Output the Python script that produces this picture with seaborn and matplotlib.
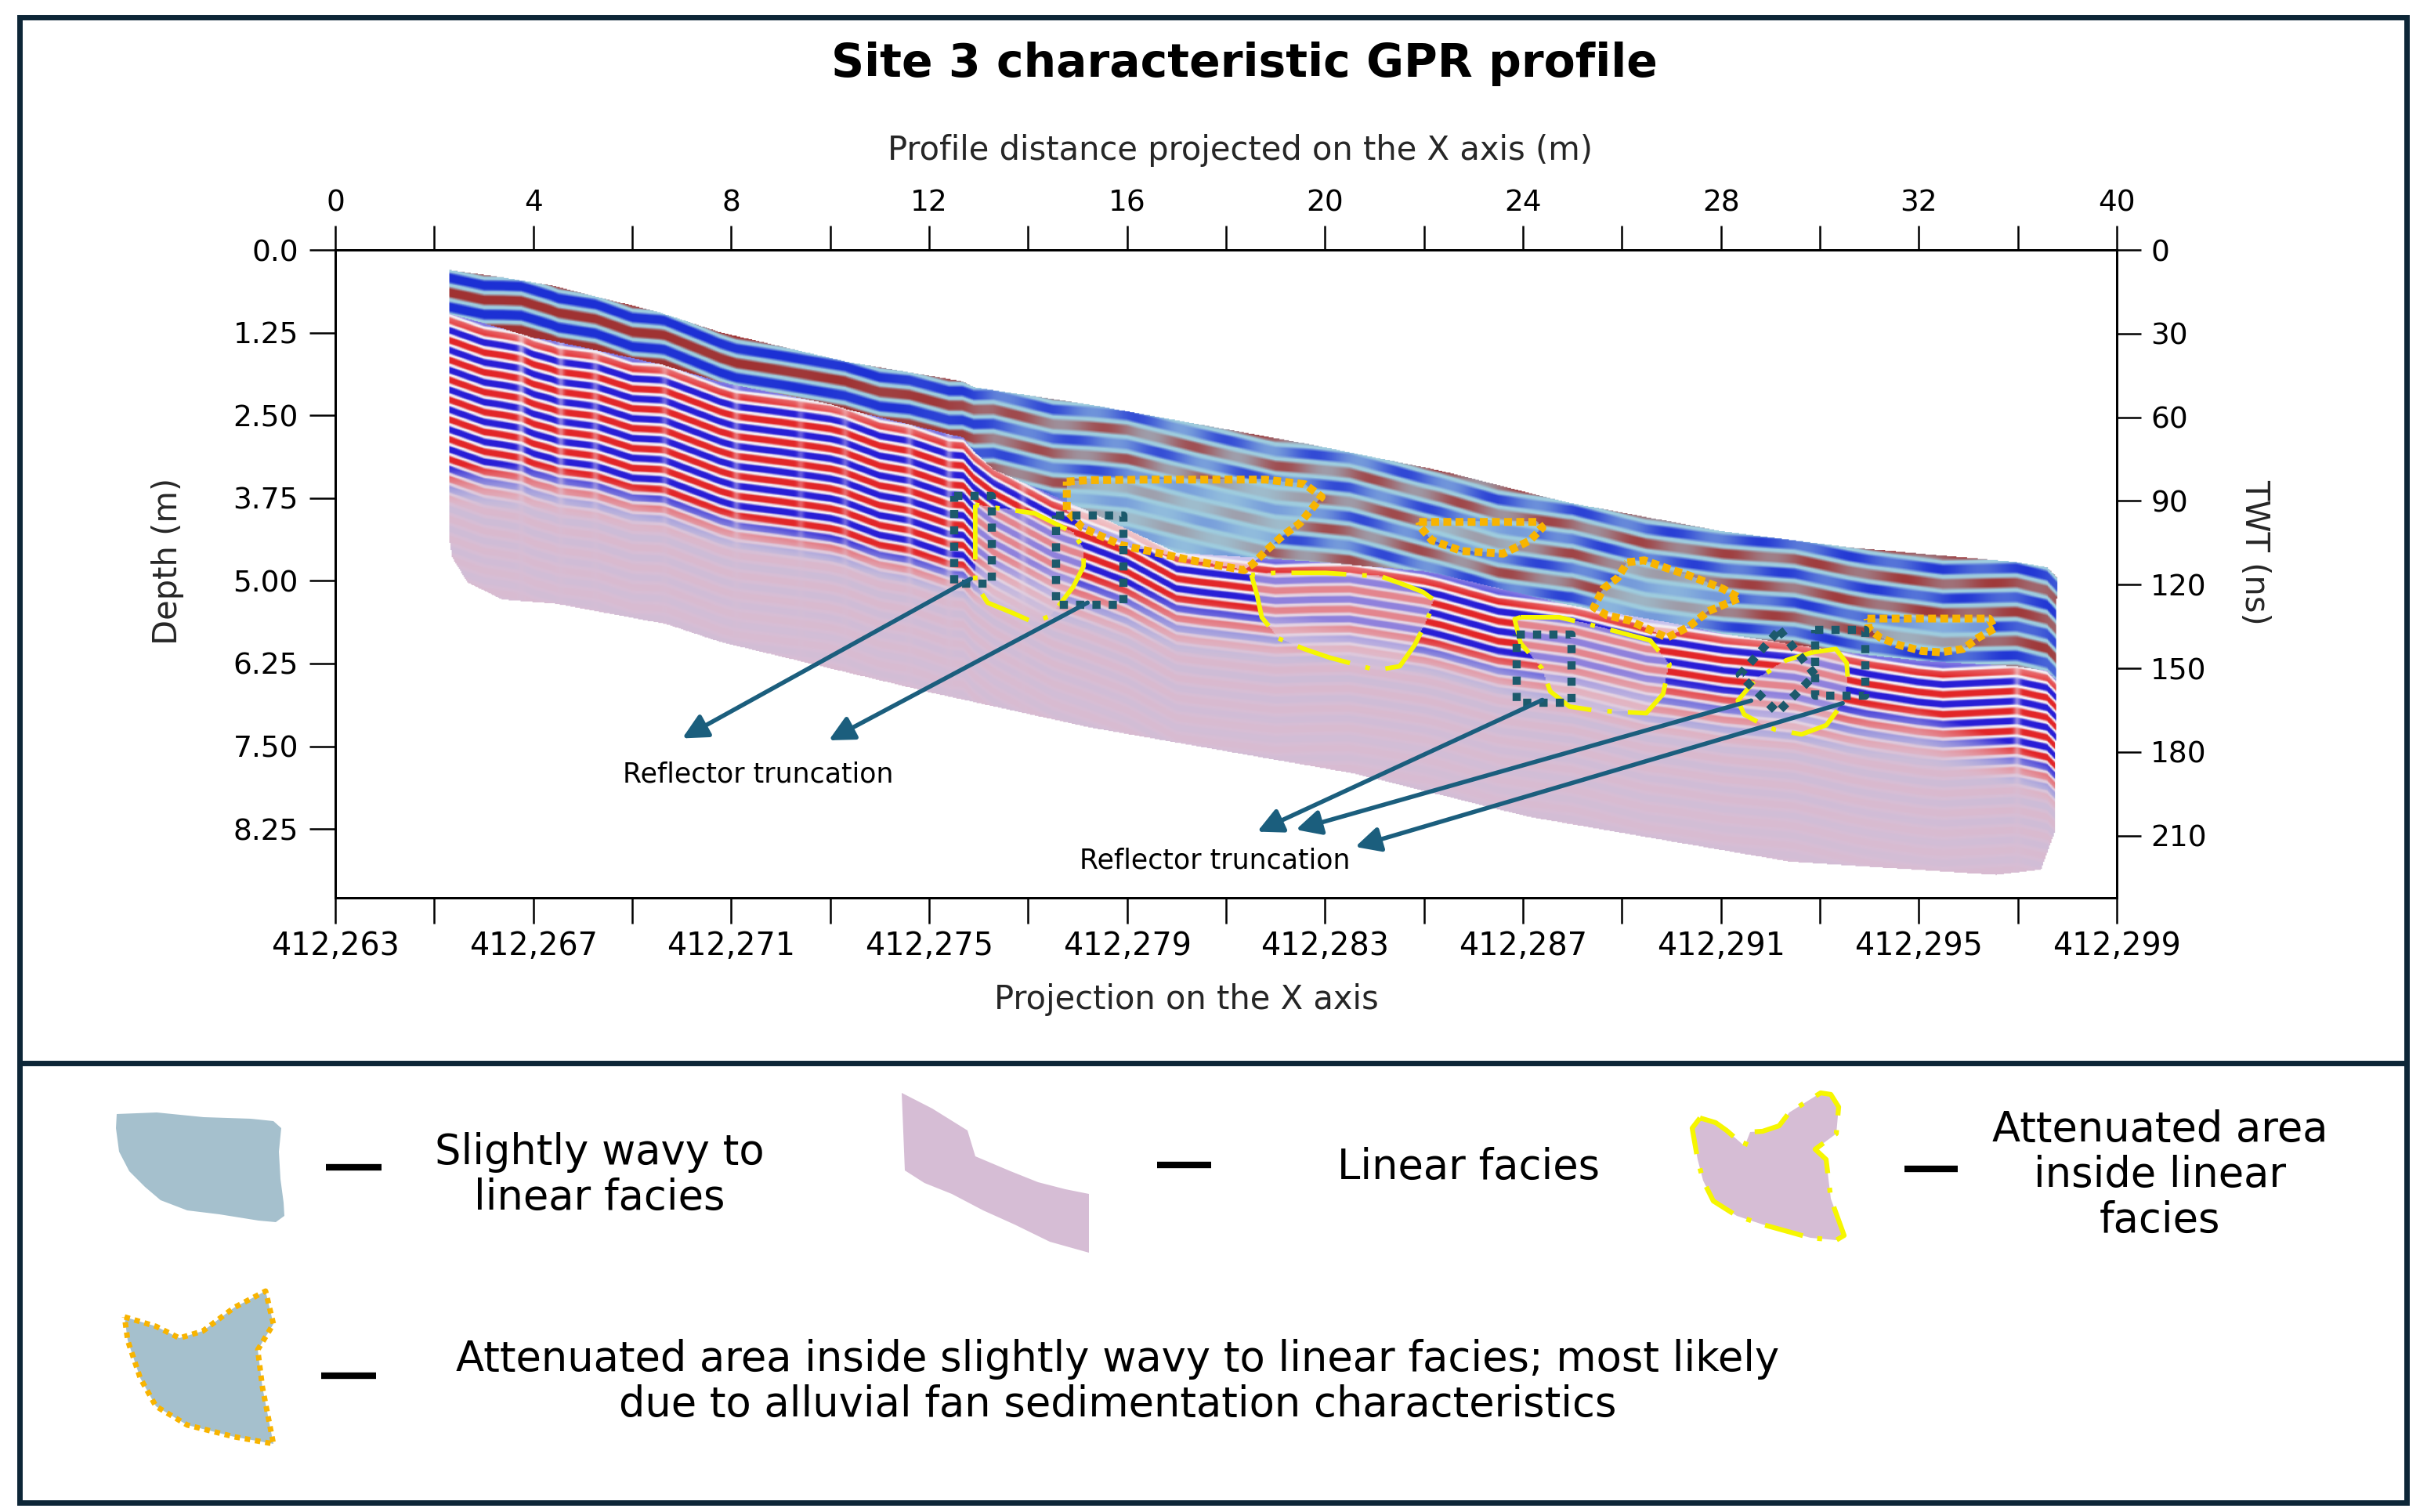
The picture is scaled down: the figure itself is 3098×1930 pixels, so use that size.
import numpy as np
import matplotlib
matplotlib.use("Agg")
import matplotlib.pyplot as plt
import seaborn as sns
from matplotlib.path import Path
from matplotlib.patches import Polygon, Rectangle

# ---------------------------------------------------------------- data
X_MAX = 36.0          # profile distance (m) covered by the axes
DEPTH_MAX = 9.79      # depth (m) at the bottom of the axes
TWT_MAX = 232.3       # two-way travel time (ns) at the bottom of the axes

top_tick_pos = [0, 4, 8, 12, 16, 20, 24, 28, 32, 36]
top_tick_labels = ["0", "4", "8", "12", "16", "20", "24", "28", "32", "40"]
all_tick_pos = [0, 2, 4, 6, 8, 10, 12, 14, 16, 18, 20, 22, 24, 26, 28, 30, 32, 34, 36]
bottom_tick_labels = ["412,263", "412,267", "412,271", "412,275", "412,279",
                      "412,283", "412,287", "412,291", "412,295", "412,299"]
depth_tick_pos = [0.0, 1.25, 2.5, 3.75, 5.0, 6.25, 7.5, 8.75]
depth_tick_labels = ["0.0", "1.25", "2.50", "3.75", "5.00", "6.25", "7.50", "8.25"]
twt_ticks = [0, 30, 60, 90, 120, 150, 180, 210]

# radargram outline: ground surface (left->right) and base (right->left)
surface_x = [2.30, 3.37, 4.35, 6.55, 7.77, 10.36, 12.67, 12.90, 15.23, 19.74,
             22.33, 24.90, 28.06, 30.60, 33.95, 34.60, 34.80]
surface_d = [0.31, 0.42, 0.54, 0.95, 1.25, 1.70, 1.99, 2.08, 2.34, 2.95,
             3.34, 3.82, 4.26, 4.50, 4.72, 4.80, 4.95]
base_x = [34.80, 34.76, 34.48, 33.57, 29.40, 28.06, 24.10, 20.60, 15.23, 12.06,
          7.77, 6.68, 4.43, 3.37, 2.66, 2.35, 2.30]
base_d = [5.20, 8.80, 9.37, 9.45, 9.25, 9.08, 8.57, 7.92, 7.22, 6.70,
          5.93, 5.66, 5.35, 5.29, 5.03, 4.65, 4.40]

# facies thickness below the surface along the profile (m)
zone_x = [2.3, 4.0, 10.0, 12.7, 13.3, 17.0, 22.0, 27.0, 32.0, 34.8]
wavy_thick = [0.66, 0.84, 0.70, 0.85, 1.20, 2.00, 1.57, 1.53, 1.62, 1.56]
linear_thick = [2.30, 1.90, 1.95, 1.90, 1.30, 0.65, 1.00, 0.85, 0.70, 1.40]
fade_thick = [0.60, 0.70, 0.50, 0.55, 0.80, 0.85, 0.55, 0.90, 0.80, 0.60]
wavy_amp = [1.0, 1.0, 1.0, 0.95, 0.85, 0.80, 0.85, 0.90, 0.95, 0.95]
wavy_patchy = [0.0, 0.0, 0.05, 0.1, 0.45, 0.65, 0.6, 0.5, 0.4, 0.3]
LAM_WAVY = 0.44       # reflector spacing in slightly wavy facies (m)
LAM_LINEAR = 0.30     # reflector spacing in linear facies (m)
LENS_LEN = 1.8        # typical reflector lens length in wavy facies (m)

# reflector undulation along the profile (m)
und_x = [2.3, 3.0, 3.75, 4.5, 5.25, 6.0, 6.65, 7.5, 8.1, 9.0, 10.3, 11.0, 11.6, 12.4,
         13.3, 14.5, 16.0, 17.5, 19.0, 20.5, 22.0, 23.5, 25.0, 26.5, 28.0, 29.5,
         31.0, 32.5, 34.0, 34.8]
und_u = [0.00, 0.04, -0.03, 0.05, 0.00, 0.06, -0.02, 0.03, 0.07, 0.02, -0.04, 0.03,
         0.00, 0.06, -0.05, 0.04, -0.06, 0.02, 0.08, -0.03, 0.05, 0.10, -0.02, 0.06,
         0.00, -0.06, 0.04, 0.09, -0.03, 0.02]
# vertical trace disturbances
striation_x = [3.75, 4.55, 5.25, 6.65, 8.1, 9.4, 10.3, 11.6, 12.4, 13.9, 34.0]
striation_k = [0.55, 0.45, 0.40, 0.35, 0.40, 0.30, 0.35, 0.40, 0.45, 0.35, 0.50]

# attenuated areas inside slightly wavy facies (orange dotted)
o1_x = [14.78, 15.2, 16.5, 18.0, 18.80, 19.59, 19.93, 19.49, 19.14, 18.80, 18.55, 18.36,
        17.17, 15.88, 15.10, 14.78, 14.78]
o1_d = [3.50, 3.48, 3.47, 3.47, 3.47, 3.54, 3.73, 4.13, 4.32, 4.55, 4.74, 4.84,
        4.67, 4.46, 4.20, 3.94, 3.50]
o2_x = [21.90, 22.6, 23.4, 24.29, 24.39, 24.14, 23.60, 22.76, 22.16, 21.94, 21.90]
o2_d = [4.11, 4.11, 4.11, 4.11, 4.20, 4.39, 4.59, 4.55, 4.39, 4.20, 4.11]
o3_x = [26.11, 26.45, 26.91, 27.36, 28.04, 28.38, 27.74, 27.36, 26.91, 26.15, 25.69,
        25.43, 25.62, 25.92, 26.11]
o3_d = [4.72, 4.69, 4.81, 4.92, 5.12, 5.26, 5.46, 5.69, 5.86, 5.60, 5.52,
        5.40, 5.12, 4.95, 4.72]
o4_x = [30.96, 31.8, 32.6, 33.42, 33.53, 33.20, 32.89, 32.44, 32.06, 31.60, 31.22, 30.99, 30.96]
o4_d = [5.57, 5.57, 5.57, 5.57, 5.72, 5.86, 6.03, 6.08, 6.06, 5.97, 5.86, 5.72, 5.57]

# attenuated areas inside linear facies (yellow dash-dot)
y1_x = [12.93, 12.93, 13.18, 13.70, 14.12, 14.47, 14.91, 15.12, 15.12, 14.91, 14.13, 13.18, 12.93]
y1_d = [3.85, 5.04, 5.33, 5.49, 5.63, 5.52, 5.09, 4.78, 4.52, 4.27, 3.98, 3.88, 3.85]
y2_x = [18.51, 18.63, 18.72, 19.06, 19.58, 20.09, 21.04, 21.51, 21.81, 22.07, 22.20,
        21.98, 21.64, 21.12, 20.61, 20.01, 18.98, 18.51]
y2_d = [4.91, 5.23, 5.55, 5.87, 6.03, 6.16, 6.35, 6.29, 5.97, 5.58, 5.29,
        5.17, 5.07, 4.93, 4.91, 4.88, 4.88, 4.91]
y3_x = [23.95, 24.73, 25.29, 25.76, 26.57, 26.96, 26.83, 26.49, 25.46, 24.94, 24.55,
        24.38, 23.95, 23.83, 23.95]
y3_d = [5.55, 5.55, 5.65, 5.74, 5.90, 6.26, 6.71, 7.00, 6.96, 6.90, 6.67,
        6.32, 5.94, 5.58, 5.55]
y4_x = [29.85, 30.32, 30.54, 30.57, 30.48, 30.13, 29.63, 29.10, 28.81, 28.47, 28.34,
        28.69, 29.32, 29.85]
y4_d = [6.08, 6.03, 6.24, 6.55, 6.83, 7.18, 7.32, 7.25, 7.16, 7.02, 6.81,
        6.50, 6.20, 6.08]

# reflector truncation boxes (x0, x1, d0, d1) and diamond
trunc_x0 = [12.50, 14.56, 23.87, 29.90]
trunc_x1 = [13.27, 15.93, 24.98, 30.92]
trunc_d0 = [3.72, 4.01, 5.81, 5.74]
trunc_d1 = [5.04, 5.36, 6.84, 6.73]
diamond_x = [29.18, 29.90, 29.14, 28.38, 29.18]
diamond_d = [5.74, 6.42, 6.99, 6.42, 5.74]

# arrows
arrow_start_x = [12.84, 15.20, 24.39, 28.61, 30.46]
arrow_start_d = [4.97, 5.33, 6.80, 6.81, 6.85]
arrow_end_x = [7.01, 9.97, 18.63, 19.41, 20.61]
arrow_end_d = [7.38, 7.41, 8.79, 8.76, 9.02]
note_x = [8.54, 17.77]
note_d = [7.93, 9.23]
note_text = ["Reflector truncation", "Reflector truncation"]

# legend glyph outlines (figure pixels)
leg1_x = [149, 200, 260, 320, 349, 359, 356, 358, 362, 363, 352, 330, 280, 239, 205, 185, 165, 152, 148]
leg1_y = [1422, 1420, 1426, 1428, 1431, 1440, 1470, 1505, 1535, 1552, 1560, 1558, 1550, 1545,
          1532, 1515, 1495, 1470, 1440]
leg2_x = [1151, 1190, 1235, 1245, 1290, 1325, 1360, 1390, 1390, 1340, 1295, 1255, 1215, 1180, 1155]
leg2_y = [1395, 1415, 1443, 1476, 1495, 1509, 1518, 1524, 1599, 1585, 1563, 1545, 1524, 1510, 1494]
leg3_x = [2170, 2160, 2167, 2174, 2187, 2217, 2250, 2311, 2344, 2354, 2337, 2331, 2317,
          2344, 2347, 2337, 2324, 2284, 2271, 2250, 2234, 2227, 2204, 2190, 2170]
leg3_y = [1427, 1440, 1480, 1507, 1533, 1552, 1563, 1580, 1583, 1577, 1530, 1480, 1467,
          1447, 1413, 1397, 1395, 1420, 1437, 1444, 1445, 1463, 1443, 1433, 1427]
leg4_x = [159, 199, 229, 259, 299, 339, 349, 329, 335, 349, 299, 239, 199, 179, 163, 159]
leg4_y = [1681, 1693, 1708, 1699, 1669, 1648, 1690, 1723, 1771, 1843, 1834, 1819, 1795, 1759, 1711, 1681]
leg_dash_x0 = [416, 1477, 2431, 410]
leg_dash_x1 = [487, 1546, 2499, 480]
leg_dash_y = [1490, 1487, 1492, 1756]
leg_text = ["Slightly wavy to\nlinear facies", "Linear facies",
            "Attenuated area\ninside linear\nfacies",
            "Attenuated area inside slightly wavy to linear facies; most likely\n"
            "due to alluvial fan sedimentation characteristics"]
leg_text_x = [765, 1875, 2757, 1427]
leg_text_y = [1500, 1490, 1500, 1764]

# ---------------------------------------------------------------- colours
LIGHTBLUE = np.array([158, 204, 222]) / 255
DARKRED = np.array([160, 50, 50]) / 255
BLUE = np.array([28, 48, 212]) / 255
RED = np.array([226, 38, 40]) / 255
BLUE2 = np.array([40, 30, 214]) / 255
WHITEISH = np.array([244, 238, 243]) / 255
PINK = np.array([215, 190, 213]) / 255
FAINT_BLUE = np.array([160, 180, 225]) / 255
FAINT_RED = np.array([232, 160, 170]) / 255
ORANGE = "#F8B400"
YELLOW = "#F6F600"
TEAL = "#1C5A6C"
ARROW = "#1B5E7D"
FRAME = "#0D2637"
WAVY_FILL = "#A5C0CD"
LINEAR_FILL = "#D6BDD5"

# ---------------------------------------------------------------- style
sns.set_theme(style="white")
plt.rcParams["font.family"] = ["DejaVu Sans"]
plt.rcParams["axes.edgecolor"] = "black"
plt.rcParams["text.color"] = "black"

fig = plt.figure(figsize=(30.98, 19.30), dpi=100, facecolor="white")

# full-figure layout layer (frame, title, legend)
lay = fig.add_axes([0, 0, 1, 1], zorder=-1)
lay.set_xlim(0, 3098)
lay.set_ylim(1930, 0)
lay.axis("off")
lay.add_patch(Rectangle((25, 22), 3047, 1896, fill=False, edgecolor=FRAME, linewidth=5))
lay.plot([25, 3072], [1357, 1357], color=FRAME, linewidth=5, solid_capstyle="butt")
lay.text(1588, 82, "Site 3 characteristic GPR profile", fontsize=42, fontweight="bold",
         ha="center", va="center")

lay.add_patch(Polygon(np.column_stack([leg1_x, leg1_y]), closed=True, facecolor=WAVY_FILL,
                      edgecolor="none", joinstyle="round"))
lay.add_patch(Polygon(np.column_stack([leg2_x, leg2_y]), closed=True, facecolor=LINEAR_FILL,
                      edgecolor="none"))
lay.add_patch(Polygon(np.column_stack([leg3_x, leg3_y]), closed=True, facecolor=LINEAR_FILL,
                      edgecolor="none"))
lay.plot(leg3_x, leg3_y, color=YELLOW, linewidth=4.5, linestyle=(0, (8, 3, 1, 3)))
lay.add_patch(Polygon(np.column_stack([leg4_x, leg4_y]), closed=True, facecolor=WAVY_FILL,
                      edgecolor="none"))
lay.plot(leg4_x, leg4_y, color=ORANGE, linewidth=5, linestyle=(0, (1, 0.9)))
for x0, x1, yy in zip(leg_dash_x0, leg_dash_x1, leg_dash_y):
    lay.plot([x0, x1], [yy, yy], color="black", linewidth=6, solid_capstyle="butt")
for tx, ty, tt in zip(leg_text_x, leg_text_y, leg_text):
    lay.text(tx, ty, tt, fontsize=38, ha="center", va="center", linespacing=1.15)

# ---------------------------------------------------------------- main axes
ax = fig.add_axes([0.1382, 0.4062, 0.7340, 0.4285])

xg = np.linspace(0, X_MAX, 1500)
dg = np.linspace(0, DEPTH_MAX, 720)
XX, DD = np.meshgrid(xg, dg)
pts = np.column_stack([XX.ravel(), DD.ravel()])
surf = np.interp(XX, surface_x, surface_d)
s = DD - surf
T = np.interp(XX, zone_x, wavy_thick)
L = np.interp(XX, zone_x, linear_thick)
F = np.interp(XX, zone_x, fade_thick)
A = np.interp(XX, zone_x, wavy_amp)
P = np.interp(XX, zone_x, wavy_patchy)
U = np.interp(XX, und_x, und_u)
stri = np.ones_like(XX)
for xs, k in zip(striation_x, striation_k):
    stri *= 1 - k * np.exp(-((XX - xs) / 0.07) ** 2)

phase_w = (s - 0.12 - U) / LAM_WAVY
v_w = -np.cos(2 * np.pi * phase_w)
band = np.floor(phase_w * 2 + 0.5)
lens = 0.5 + 0.5 * np.cos(2 * np.pi * (XX / LENS_LEN + 0.37 * band))
v_l = np.cos(2 * np.pi * (s - T - 0.10 - U) / LAM_LINEAR)
in_w = s < T
v = np.where(in_w, v_w, v_l)
sl = s - T
below = np.clip(sl - L - F, 0, None)
env_l = np.where(sl < L, np.clip(0.55 + sl / 0.5, 0, 1),
                 np.clip(1 - (sl - L) / F, 0.0, 1) * 0.8 + 0.16 * np.exp(-below / 1.1) + 0.03)
env_w = A * (1 - P * (1 - lens))
env = np.where(in_w, env_w, env_l * stri)

# attenuated areas drawn from the annotated outlines
att_o = np.zeros(XX.shape, bool)
for xx, dd in [(o1_x, o1_d), (o2_x, o2_d), (o3_x, o3_d), (o4_x, o4_d)]:
    att_o |= Path(np.column_stack([xx, dd])).contains_points(pts).reshape(XX.shape)
att_y = np.zeros(XX.shape, bool)
for xx, dd in [(y1_x, y1_d), (y2_x, y2_d), (y3_x, y3_d), (y4_x, y4_d)]:
    att_y |= Path(np.column_stack([xx, dd])).contains_points(pts).reshape(XX.shape)
env = env * np.where(att_o, 0.35, 1.0) * np.where(att_y & ~in_w, 0.45, 1.0)

w = np.clip((np.abs(v) - 0.2) / 0.55, 0, 1) * env

pink_mix = np.clip((sl - L + 0.25) / (F + 0.25), 0, 1)
pink_mix = np.where(att_y & ~in_w, np.maximum(pink_mix, 0.55), pink_mix)[..., None]
bg_l = WHITEISH * (1 - pink_mix) + PINK * pink_mix
bg = np.where(in_w[..., None], LIGHTBLUE, bg_l)
deep = np.clip((sl - L) / F, 0, 1)[..., None]
red_l = RED * (1 - deep) + FAINT_RED * deep
blue_l = BLUE2 * (1 - deep) + FAINT_BLUE * deep
pos_col = np.where(in_w[..., None], DARKRED, red_l)
neg_col = np.where(in_w[..., None], BLUE, blue_l)
stripe = np.where((v > 0)[..., None], pos_col, neg_col)
rgb = bg * (1 - w[..., None]) + stripe * w[..., None]

outline = np.column_stack([surface_x + base_x, surface_d + base_d])
mask = Path(outline).contains_points(pts).reshape(XX.shape)
rgba = np.dstack([np.clip(rgb, 0, 1), mask.astype(float)])
ax.imshow(rgba, extent=(0, X_MAX, DEPTH_MAX, 0), aspect="auto", interpolation="antialiased",
          zorder=1)

# annotations
for xx, dd in [(o1_x, o1_d), (o2_x, o2_d), (o3_x, o3_d), (o4_x, o4_d)]:
    ax.plot(xx, dd, color=ORANGE, linewidth=7.2, linestyle=(0, (1, 0.55)), zorder=4)
for xx, dd in [(y1_x, y1_d), (y2_x, y2_d), (y3_x, y3_d), (y4_x, y4_d)]:
    ax.plot(xx, dd, color=YELLOW, linewidth=4.2, linestyle=(0, (12, 3.5, 1, 3.5)), zorder=3)
for x0, x1, d0, d1 in zip(trunc_x0, trunc_x1, trunc_d0, trunc_d1):
    ax.plot([x0, x1, x1, x0, x0], [d0, d0, d1, d1, d0], color=TEAL, linewidth=7.5,
            linestyle=(0, (1, 1.0)), zorder=5)
ax.plot(diamond_x, diamond_d, color=TEAL, linewidth=7.5, linestyle=(0, (1, 1.0)), zorder=5)
for sx, sd, ex, ed in zip(arrow_start_x, arrow_start_d, arrow_end_x, arrow_end_d):
    ax.annotate("", xy=(ex, ed), xytext=(sx, sd),
                arrowprops=dict(arrowstyle="-|>", color=ARROW, lw=4, mutation_scale=48,
                                shrinkA=0, shrinkB=0), zorder=6)
for nx_, nd_, nt in zip(note_x, note_d, note_text):
    ax.text(nx_, nd_, nt, fontsize=25, ha="center", va="center", zorder=6)

ax.set_xlim(0, X_MAX)
ax.set_ylim(DEPTH_MAX, 0)
ax.set_facecolor("white")
for sp in ax.spines.values():
    sp.set_linewidth(2)
    sp.set_color("black")

ax.set_xticks(all_tick_pos)
ax.set_xticklabels([bottom_tick_labels[i // 2] if i % 2 == 0 else "" for i in range(len(all_tick_pos))])
ax.set_yticks(depth_tick_pos)
ax.set_yticklabels(depth_tick_labels)
ax.tick_params(axis="x", bottom=True, top=False, direction="out", length=24, width=1.8,
               labelsize=28.5, pad=6, color="black", labelcolor="black")
ax.tick_params(axis="y", left=True, right=False, direction="out", length=24, width=1.8,
               labelsize=27, pad=10, color="black", labelcolor="black")
ax.set_xlabel("Projection on the X axis", fontsize=30)
ax.xaxis.set_label_coords(0.4776, -0.157)
ax.xaxis.label.set_va("center")
ax.set_ylabel("Depth (m)", fontsize=30)
ax.yaxis.set_label_coords(-0.0941, 0.52)
ax.yaxis.label.set_va("center")
ax.grid(False)

ax_r = ax.twinx()
ax_r.set_ylim(TWT_MAX, 0)
ax_r.set_yticks(twt_ticks)
ax_r.set_yticklabels([str(t) for t in twt_ticks])
ax_r.tick_params(axis="y", right=True, left=False, direction="out", length=22, width=1.8,
                 labelsize=27, pad=9, color="black", labelcolor="black")
ax_r.set_ylabel("TWT (ns)", fontsize=30, rotation=270)
ax_r.yaxis.set_label_coords(1.0774, 0.534)
ax_r.yaxis.label.set_va("center")
ax_r.grid(False)

ax_t = ax.twiny()
ax_t.set_xlim(0, X_MAX)
ax_t.set_xticks(all_tick_pos)
lab_map = dict(zip(top_tick_pos, top_tick_labels))
ax_t.set_xticklabels([lab_map.get(p, "") for p in all_tick_pos])
ax_t.tick_params(axis="x", top=True, bottom=False, direction="out", length=22, width=1.8,
                 labelsize=27, pad=8, color="black", labelcolor="black")
ax_t.set_xlabel("Profile distance projected on the X axis (m)", fontsize=30)
ax_t.xaxis.set_label_coords(0.508, 1.1536)
ax_t.xaxis.label.set_va("center")
ax_t.grid(False)
for a in (ax_r, ax_t):
    for sp in a.spines.values():
        sp.set_linewidth(2)
        sp.set_color("black")

fig.savefig("out.png", dpi=100, facecolor="white")
